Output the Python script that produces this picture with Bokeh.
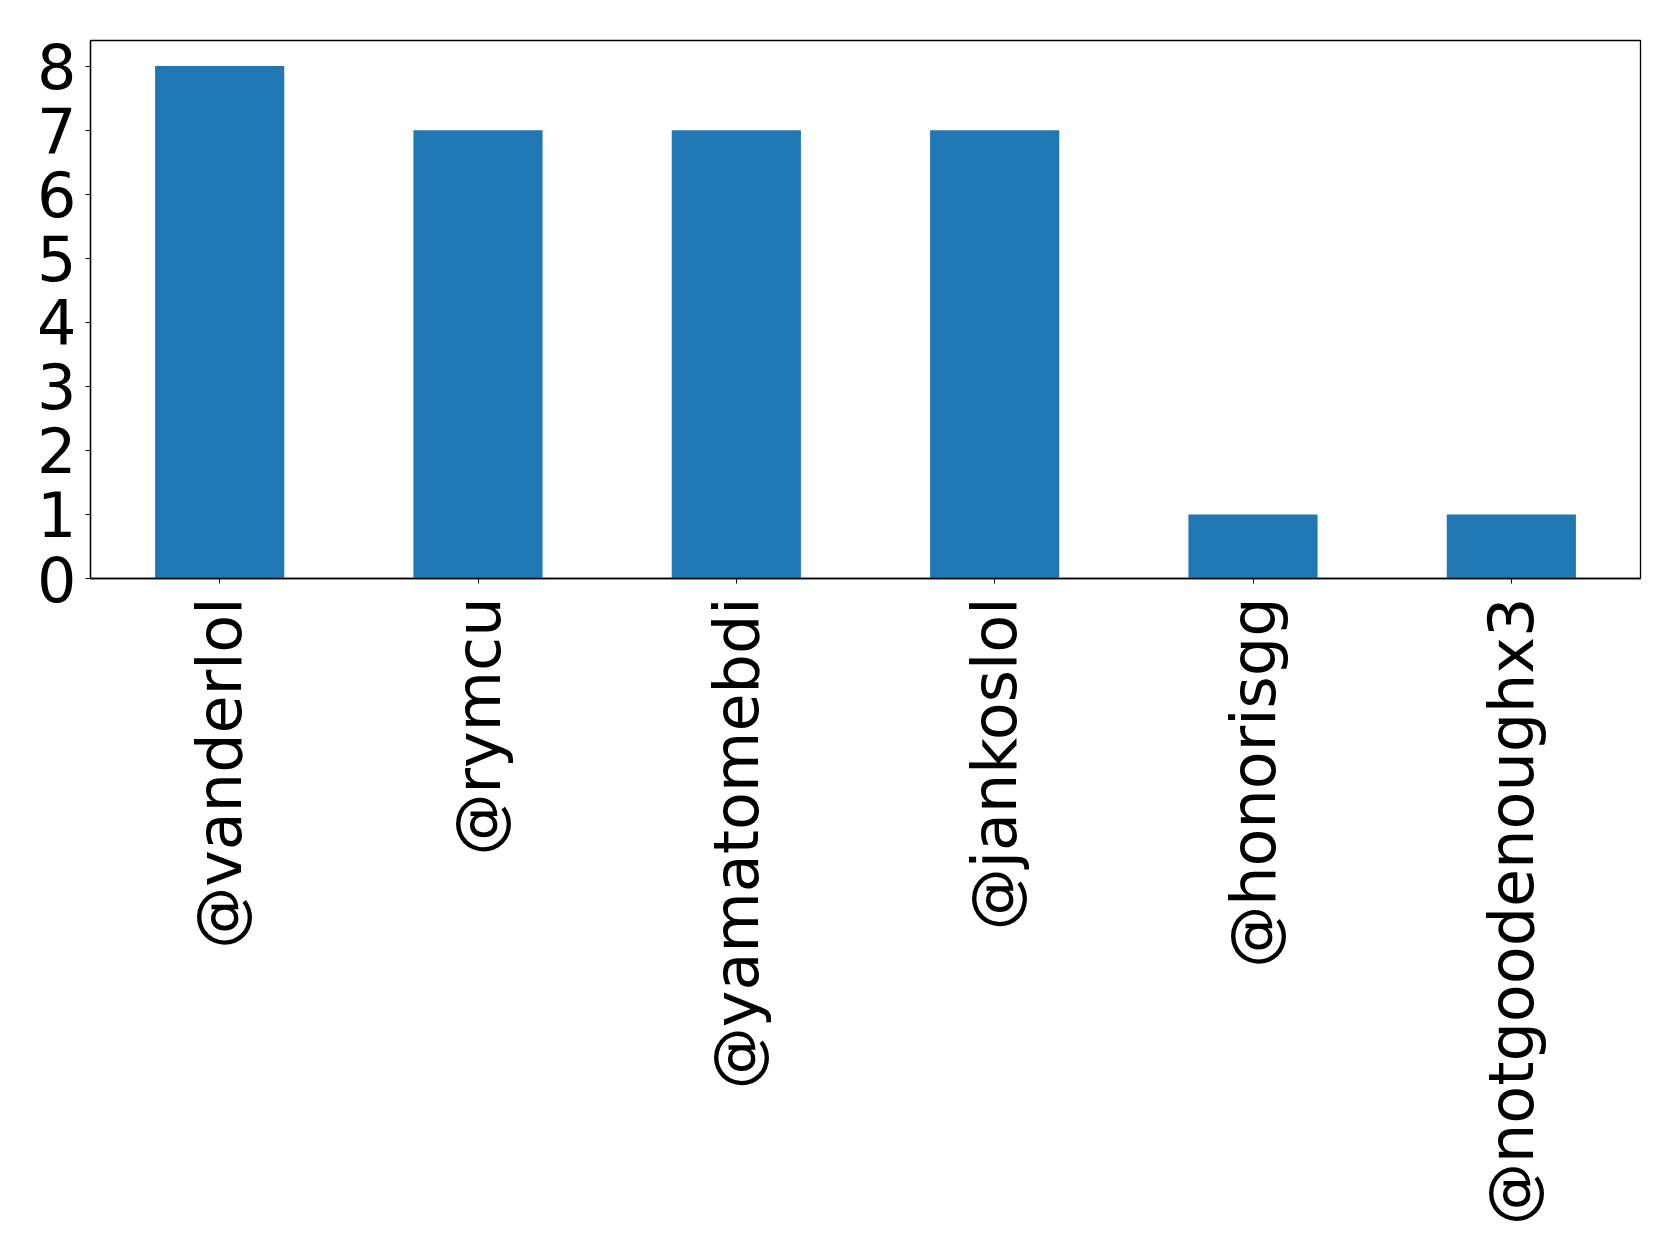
import math
from bokeh.plotting import figure
from bokeh.models import FactorRange, Range1d, FixedTicker
from bokeh.embed import file_html
from bokeh.resources import INLINE

# Mention counts per account
accounts = ["@vanderlol", "@rymcu", "@yamatomebdi", "@jankoslol", "@honorisgg", "@notgoodenoughx3"]
counts = [8, 7, 7, 7, 1, 1]
y_ticks = [0, 1, 2, 3, 4, 5, 6, 7, 8]

p = figure(
    width=1679, height=1260,
    x_range=FactorRange(*accounts, range_padding=0),
    y_range=Range1d(0, 8.4),
    output_backend="svg", toolbar_location=None,
    min_border_left=90, min_border_right=39,
    min_border_top=40, min_border_bottom=682,
)

p.vbar(x=accounts, top=counts, width=0.5, color="#1f77b4", line_color=None)

p.grid.visible = False
p.outline_line_color = "black"
p.outline_line_width = 1.3
p.outline_line_alpha = 1

for ax in (p.xaxis, p.yaxis):
    ax.axis_line_color = "black"
    ax.axis_line_width = 1.3
    ax.major_tick_line_color = "black"
    ax.major_tick_in = 0
    ax.major_tick_out = 5
    ax.minor_tick_line_color = None
    ax.major_label_text_font = "DejaVu Sans"
    ax.major_label_text_font_size = "62px"
    ax.major_label_text_color = "black"

p.yaxis.ticker = FixedTicker(ticks=y_ticks)
p.yaxis.major_label_standoff = 9
# labels read bottom-to-top, ending just under the axis
p.xaxis.major_label_orientation = math.pi / 2
p.xaxis.major_label_standoff = 14
p.xaxis.group_text_font_size = "0px"

open("out.html", "w").write(file_html(p, INLINE))
